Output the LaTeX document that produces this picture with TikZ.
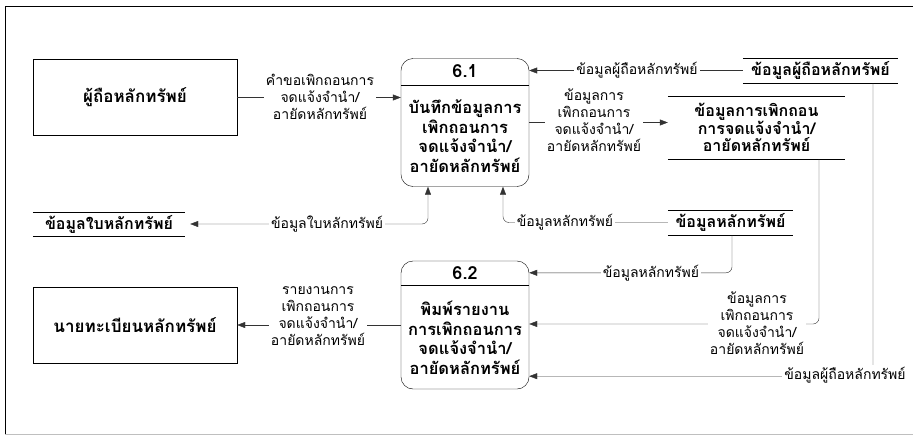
\documentclass[tikz,border=0pt]{standalone}
\usepackage{fontspec}
\setmainfont[Script=Thai]{Loma}
\usetikzlibrary{arrows.meta,calc}

\begin{document}
\begin{tikzpicture}[x=1pt,y=-1pt,
    >={Triangle[length=8pt,width=6pt]},
    entity/.style={draw,minimum width=204pt,minimum height=76pt,font=\fontsize{17}{20}\selectfont\bfseries},
    process/.style={draw,rounded corners=12pt,minimum width=128pt,minimum height=128pt},
    ptitle/.style={font=\fontsize{18}{20}\selectfont\bfseries},
    pbody/.style={align=center,font=\fontsize{16.5}{19.5}\selectfont\bfseries},
    store/.style={align=center,inner sep=0pt,font=\fontsize{16}{17}\selectfont\bfseries},
    lbl/.style={fill=white,align=center,inner sep=2pt,font=\fontsize{14}{17}\selectfont},
    flow/.style={black!80,rounded corners=6pt}]
    \useasboundingbox (0,0) rectangle (913,436);
    \draw (913,6) -- (5,6) -- (5,434);
    \draw[gray!50] (5,434) -- (913,434);

    % external entities
    \node[entity] (e1) at (135,97.5) {ผู้ถือหลักทรัพย์};
    \node[entity] (e2) at (135,325) {นายทะเบียนหลักทรัพย์};

    % processes
    \node[process] (p61) at (465,122.5) {};
    \node[ptitle] (t61) at (465,71.5) {6.1};
    \node[pbody] (b61) at (465,136) {บันทึกข้อมูลการ\\เพิกถอนการ\\จดแจ้งจำนำ/\\อายัดหลักทรัพย์};
    \draw ($(p61.north west)+(0,27)$) -- ($(p61.north east)+(0,27)$);
    \node[process] (p62) at (465,325) {};
    \node[ptitle] (t62) at (465,273) {6.2};
    \node[pbody] (b62) at (465,338) {พิมพ์รายงาน\\การเพิกถอนการ\\จดแจ้งจำนำ/\\อายัดหลักทรัพย์};
    \draw ($(p62.north west)+(0,24)$) -- ($(p62.north east)+(0,24)$);

    % data stores
    \node[store,minimum width=155pt,minimum height=25pt] (s1) at (820.5,70.5) {ข้อมูลผู้ถือหลักทรัพย์};
    \node[store,minimum width=177pt,minimum height=63pt] (s2) at (756.5,127.5) {ข้อมูลการเพิกถอน\\การจดแจ้งจำนำ/\\อายัดหลักทรัพย์};
    \node[store,minimum width=125pt,minimum height=25pt] (s3) at (730.5,222.5) {ข้อมูลหลักทรัพย์};
    \node[store,minimum width=152pt,minimum height=24pt] (s4) at (109,224) {ข้อมูลใบหลักทรัพย์};
    \foreach \s in {s1,s2,s3,s4}
        \draw (\s.north west) -- (\s.north east) (\s.south west) -- (\s.south east);

    % flows
    \draw[flow,->] (e1.east) -- (p61.west |- e1.east);
    \draw[flow,->] (s1.west) -- (p61.east |- s1.west);
    \draw[flow,->] (p61.east) -- (s2.west |- p61.east);
    \draw[flow,->] (s3.west) -| ($(p61.south)+(38,0)$);
    \draw[flow,<->] ($(p61.south)+(-37,0)$) |- ($(s4.east)+(5,0)$);
    \draw[flow,->] ($(s3.south)+(1.5,0)$) |- ($(p62.north east)+(0,12)$);
    \draw[flow,->] ($(s2.south)+(62.5,0)$) |- ($(p62.east)+(0,-1)$);
    \draw[flow,->] ($(s1.south)+(52.5,0)$) |- ($(p62.south east)+(0,-13)$);
    \draw[flow,->] (p62.west) -- (e2.east);

    % flow labels
    \node[lbl] (l1) at (320,97) {คำขอเพิกถอนการ\\จดแจ้งจำนำ/\\อายัดหลักทรัพย์};
    \node[lbl] (l2) at (637,70) {ข้อมูลผู้ถือหลักทรัพย์};
    \node[lbl] (l3) at (594,120.5) {ข้อมูลการ\\เพิกถอนการ\\จดแจ้งจำนำ/\\อายัดหลักทรัพย์};
    \node[lbl] (l4) at (565,222) {ข้อมูลหลักทรัพย์};
    \node[lbl] (l5) at (327,224) {ข้อมูลใบหลักทรัพย์};
    \node[lbl] (l6) at (651,273) {ข้อมูลหลักทรัพย์};
    \node[lbl] (l7) at (757,323.5) {ข้อมูลการ\\เพิกถอนการ\\จดแจ้งจำนำ/\\อายัดหลักทรัพย์};
    \node[lbl] (l8) at (845,375) {ข้อมูลผู้ถือหลักทรัพย์};
    \node[lbl] (l9) at (318,316.5) {รายงานการ\\เพิกถอนการ\\จดแจ้งจำนำ/\\อายัดหลักทรัพย์};
\end{tikzpicture}
\end{document}
